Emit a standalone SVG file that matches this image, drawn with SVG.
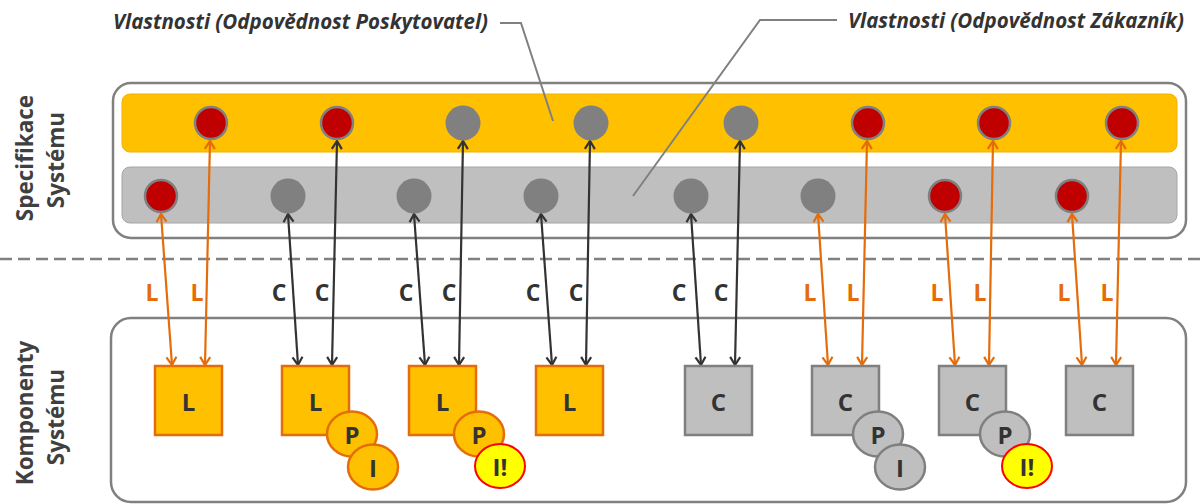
<svg xmlns="http://www.w3.org/2000/svg" width="1202" height="504" viewBox="0 0 1202 504">
<defs>
<style>
.frame{fill:#fff;stroke:#808080;stroke-width:2.5}
.yband{fill:#FFC000;stroke:#F5B000;stroke-width:1}
.gband{fill:#BFBFBF;stroke:#A6A6A6;stroke-width:1}
.red{fill:#C00000;stroke:#808080;stroke-width:2.5}
.gry{fill:#808080}
.sqL{fill:#FFC000;stroke:#E46C0A;stroke-width:2.5}
.sqC{fill:#BFBFBF;stroke:#7F7F7F;stroke-width:2.5}
.sub{fill:#FFC000;stroke:#E46C0A;stroke-width:2.5}
.subC{fill:#BFBFBF;stroke:#7F7F7F;stroke-width:2.5}
.warn{fill:#FFFF00;stroke:#FF0000;stroke-width:2}
.t{font-family:"Open Sans","Noto Sans",sans-serif;font-weight:bold;fill:#333333;text-anchor:middle;dominant-baseline:central}
.big{font-size:24px}
.lab{font-size:23px}
.or{fill:#E46C0A}
.side{font-family:"Open Sans","Noto Sans",sans-serif;font-weight:bold;font-size:22.5px;fill:#404040;text-anchor:middle;dominant-baseline:central}
.ann{font-family:"Open Sans","Noto Sans",sans-serif;font-weight:bold;font-style:italic;font-size:20.5px;fill:#333333}
.ao{stroke:#E46C0A;stroke-width:2.2;fill:none}
.ac{stroke:#333333;stroke-width:2.2;fill:none}
.lead{stroke:#808080;stroke-width:2;fill:none}
</style>
<marker id="mo" viewBox="-10 -7 12 14" refX="0" refY="0" markerWidth="12" markerHeight="14" markerUnits="userSpaceOnUse" orient="auto-start-reverse">
<path d="M-8,-5 L0,0 L-8,5" fill="none" stroke="#E46C0A" stroke-width="2.2"/>
</marker>
<marker id="mc" viewBox="-10 -7 12 14" refX="0" refY="0" markerWidth="12" markerHeight="14" markerUnits="userSpaceOnUse" orient="auto-start-reverse">
<path d="M-8,-5 L0,0 L-8,5" fill="none" stroke="#333333" stroke-width="2.2"/>
</marker>
</defs>

<g id="spec-frame">
<rect class="frame" x="113" y="83" width="1073" height="155" rx="18"/>
<rect class="yband" x="122" y="94" width="1055" height="58" rx="8"/>
<rect class="gband" x="122" y="167" width="1055" height="56" rx="8"/>
</g>

<g id="comp-frame">
<rect class="frame" x="111" y="318" width="1075" height="184" rx="20"/>
</g>

<line x1="0" y1="259" x2="1202" y2="259" stroke="#808080" stroke-width="2.5" stroke-dasharray="12,6"/>

<g id="side-labels">
<text class="side" transform="translate(24,158) rotate(-90)">Specifikace</text>
<text class="side" transform="translate(55,160) rotate(-90)">Systému</text>
<text class="side" transform="translate(24,413) rotate(-90)">Komponenty</text>
<text class="side" transform="translate(55,417) rotate(-90)">Systému</text>
</g>

<g id="annotations">
<text class="ann" x="113" y="29">Vlastnosti (Odpovědnost Poskytovatel)</text>
<polyline class="lead" points="500,23 521,23 553,121"/>
<text class="ann" x="848" y="28">Vlastnosti (Odpovědnost Zákazník)</text>
<polyline class="lead" points="837,20 760,20 633,196"/>
</g>

<g id="connectors">
<line class="ao" x1="161" y1="214" x2="172" y2="365" marker-start="url(#mo)" marker-end="url(#mo)"/>
<line class="ao" x1="210" y1="141" x2="205" y2="365" marker-start="url(#mo)" marker-end="url(#mo)"/>
<line class="ac" x1="288" y1="214" x2="298" y2="365" marker-start="url(#mc)" marker-end="url(#mc)"/>
<line class="ac" x1="337" y1="141" x2="332" y2="365" marker-start="url(#mc)" marker-end="url(#mc)"/>
<line class="ac" x1="414" y1="214" x2="425" y2="365" marker-start="url(#mc)" marker-end="url(#mc)"/>
<line class="ac" x1="463" y1="141" x2="459" y2="365" marker-start="url(#mc)" marker-end="url(#mc)"/>
<line class="ac" x1="541" y1="214" x2="552" y2="365" marker-start="url(#mc)" marker-end="url(#mc)"/>
<line class="ac" x1="590" y1="141" x2="586" y2="365" marker-start="url(#mc)" marker-end="url(#mc)"/>
<line class="ac" x1="691" y1="214" x2="701" y2="365" marker-start="url(#mc)" marker-end="url(#mc)"/>
<line class="ac" x1="740" y1="141" x2="735" y2="365" marker-start="url(#mc)" marker-end="url(#mc)"/>
<line class="ao" x1="818" y1="214" x2="828" y2="365" marker-start="url(#mo)" marker-end="url(#mo)"/>
<line class="ao" x1="867" y1="141" x2="862" y2="365" marker-start="url(#mo)" marker-end="url(#mo)"/>
<line class="ao" x1="945" y1="214" x2="955" y2="365" marker-start="url(#mo)" marker-end="url(#mo)"/>
<line class="ao" x1="993" y1="141" x2="989" y2="365" marker-start="url(#mo)" marker-end="url(#mo)"/>
<line class="ao" x1="1072" y1="214" x2="1082" y2="365" marker-start="url(#mo)" marker-end="url(#mo)"/>
<line class="ao" x1="1121" y1="141" x2="1116" y2="365" marker-start="url(#mo)" marker-end="url(#mo)"/>
</g>

<g id="connector-labels">
<text class="t lab or" x="152" y="292">L</text>
<text class="t lab or" x="197" y="292">L</text>
<text class="t lab" x="279" y="292">C</text>
<text class="t lab" x="322" y="292">C</text>
<text class="t lab" x="406" y="292">C</text>
<text class="t lab" x="449" y="292">C</text>
<text class="t lab" x="533" y="292">C</text>
<text class="t lab" x="576" y="292">C</text>
<text class="t lab" x="679" y="292">C</text>
<text class="t lab" x="721" y="292">C</text>
<text class="t lab or" x="810" y="292">L</text>
<text class="t lab or" x="853" y="292">L</text>
<text class="t lab or" x="937" y="292">L</text>
<text class="t lab or" x="980" y="292">L</text>
<text class="t lab or" x="1064" y="292">L</text>
<text class="t lab or" x="1107" y="292">L</text>
</g>

<g id="provider-properties">
<circle class="red" cx="211" cy="123" r="16"/>
<circle class="red" cx="337" cy="123" r="16"/>
<circle class="gry" cx="463" cy="123" r="17.5"/>
<circle class="gry" cx="591" cy="123" r="17.5"/>
<circle class="gry" cx="741" cy="123" r="17.5"/>
<circle class="red" cx="868" cy="123" r="16"/>
<circle class="red" cx="994" cy="123" r="16"/>
<circle class="red" cx="1122" cy="123" r="16"/>
</g>

<g id="customer-properties">
<circle class="red" cx="161" cy="196" r="16"/>
<circle class="gry" cx="288" cy="196" r="17.5"/>
<circle class="gry" cx="414" cy="196" r="17.5"/>
<circle class="gry" cx="541" cy="196" r="17.5"/>
<circle class="gry" cx="691" cy="196" r="17.5"/>
<circle class="gry" cx="818" cy="196" r="17.5"/>
<circle class="red" cx="945" cy="196" r="16"/>
<circle class="red" cx="1072" cy="196" r="16"/>
</g>

<g id="comp-L1">
<rect class="sqL" x="155" y="366" width="67" height="69"/>
<text class="t big" x="188.5" y="401">L</text>
</g>
<g id="comp-L2">
<rect class="sqL" x="282" y="366" width="67" height="69"/>
<text class="t big" x="315.5" y="401">L</text>
<ellipse class="sub" cx="352" cy="434" rx="25" ry="22.5"/>
<text class="t big" x="352" y="434">P</text>
<ellipse class="sub" cx="373" cy="467" rx="25" ry="22.5"/>
<text class="t big" x="373" y="467">I</text>
</g>
<g id="comp-L3">
<rect class="sqL" x="409" y="366" width="67" height="69"/>
<text class="t big" x="442.5" y="401">L</text>
<ellipse class="sub" cx="479" cy="434" rx="25" ry="22.5"/>
<text class="t big" x="479" y="434">P</text>
<ellipse class="warn" cx="500" cy="466" rx="25" ry="22"/>
<text class="t big" x="500" y="466">I!</text>
</g>
<g id="comp-L4">
<rect class="sqL" x="536" y="366" width="67" height="69"/>
<text class="t big" x="569.5" y="401">L</text>
</g>
<g id="comp-C1">
<rect class="sqC" x="685" y="366" width="67" height="69"/>
<text class="t big" x="718.5" y="401">C</text>
</g>
<g id="comp-C2">
<rect class="sqC" x="812" y="366" width="67" height="69"/>
<text class="t big" x="845.5" y="401">C</text>
<ellipse class="subC" cx="878" cy="434" rx="25" ry="22.5"/>
<text class="t big" x="878" y="434">P</text>
<ellipse class="subC" cx="900" cy="467" rx="25" ry="22.5"/>
<text class="t big" x="900" y="467">I</text>
</g>
<g id="comp-C3">
<rect class="sqC" x="939" y="366" width="67" height="69"/>
<text class="t big" x="972.5" y="401">C</text>
<ellipse class="subC" cx="1005" cy="434" rx="25" ry="22.5"/>
<text class="t big" x="1005" y="434">P</text>
<ellipse class="warn" cx="1027" cy="466" rx="25" ry="22"/>
<text class="t big" x="1027" y="466">I!</text>
</g>
<g id="comp-C4">
<rect class="sqC" x="1066" y="366" width="67" height="69"/>
<text class="t big" x="1099.5" y="401">C</text>
</g>
</svg>
